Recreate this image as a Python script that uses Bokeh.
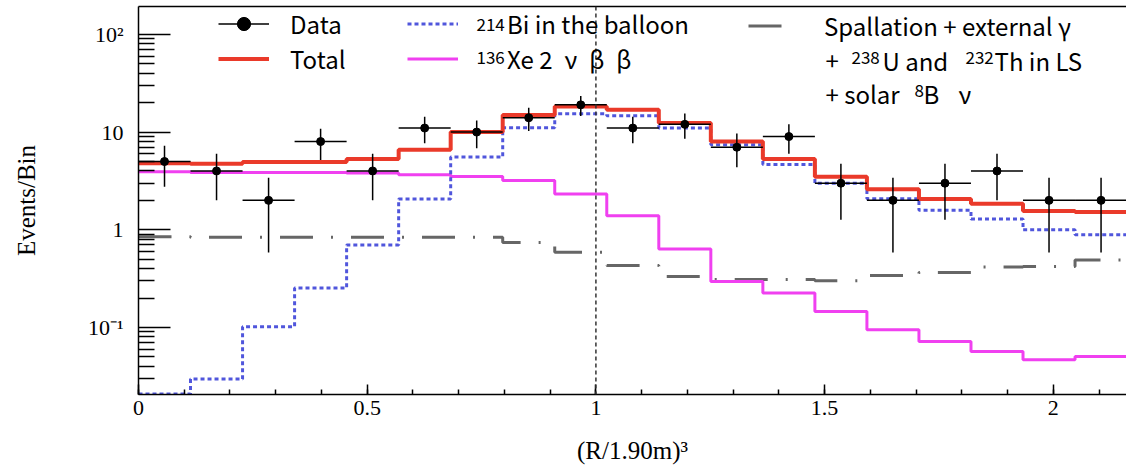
import numpy as np
from bokeh.plotting import figure
from bokeh.models import (ColumnDataSource, FixedTicker, CustomJSTickFormatter,
                          Legend, LegendItem, Span, Label, LinearAxis, Range1d)
from bokeh.embed import file_html
from bokeh.resources import INLINE

# ---------------- data ----------------
N_BINS = 19
BIN_WIDTH = 0.11375          # width of one (R/1.90m)^3 bin
FIDUCIAL_EDGE = 1.0          # vertical dashed line

data_counts = [5, 4, 2, 8, 4, 11, 10, 14, 19, 11, 12, 7, 9, 3, 2, 3, 4, 2, 2]
total_model = [4.80, 4.75, 4.93, 4.95, 5.30, 6.60, 10.0, 15.0, 18.3, 16.9,
               12.4, 8.0, 5.30, 3.50, 2.60, 2.06, 1.85, 1.56, 1.52]
bi214_balloon = [0.0208, 0.0296, 0.102, 0.253, 0.70, 2.06, 5.55, 11.1, 15.4, 14.7,
                 11.0, 7.4, 4.66, 3.0, 2.08, 1.58, 1.29, 1.0, 0.89]
xe136_2nbb = [3.92, 3.86, 3.86, 3.86, 3.82, 3.66, 3.51, 3.20, 2.32, 1.39,
              0.634, 0.296, 0.225, 0.146, 0.0947, 0.072, 0.0569, 0.0467, 0.0505]
other_bkg = [0.85, 0.84, 0.84, 0.84, 0.84, 0.84, 0.84, 0.74, 0.59, 0.43,
             0.333, 0.31, 0.31, 0.30, 0.34, 0.366, 0.415, 0.42, 0.49]

x_ticks = [0, 0.5, 1, 1.5, 2]
y_ticks = [0.1, 1, 10, 100]
x_title = "(R/1.90m)³"
y_title = "Events/Bin"

# ---------------- derived ----------------
edges = np.arange(N_BINS + 1) * BIN_WIDTH
centers = edges[:-1] + BIN_WIDTH / 2
d = np.array(data_counts, dtype=float)
err = np.sqrt(d)

SERIF = "Liberation Serif"
SANS = "Noto Sans CJK JP"

W, H = 1126, 470
BL, BT, BB = 138, 6, 76
p = figure(width=W, height=H, y_axis_type="log",
           x_range=Range1d(0, 2.16), y_range=Range1d(0.0206, 193),
           output_backend="svg", toolbar_location=None,
           min_border_left=BL, min_border_right=0, min_border_top=BT,
           min_border_bottom=BB)
p.grid.visible = False
p.outline_line_color = None
p.background_fill_color = "white"


def hist(vals, **kw):
    v = list(vals) + [vals[-1]]
    return p.step(x=edges, y=v, mode="after", **kw)


r_bkg = hist(other_bkg, line_color="#666666", line_width=3, line_dash="33 18 2 18")
r_xe = hist(xe136_2nbb, line_color="#f040f0", line_width=3)
r_bi = hist(bi214_balloon, line_color="#5056dc", line_width=3, line_dash="4 3")
r_tot = hist(total_model, line_color="#ea3a2a", line_width=4)

p.add_layout(Span(location=FIDUCIAL_EDGE, dimension="height", line_color="#333333",
                  line_width=1.5, line_dash="4 3"))

src = ColumnDataSource(dict(x=centers, y=d, x0=edges[:-1], x1=edges[1:],
                            ylo=d - err, yhi=d + err))
r_h = p.segment(x0="x0", y0="y", x1="x1", y1="y", source=src,
                line_color="black", line_width=1.5)
r_v = p.segment(x0="x", y0="ylo", x1="x", y1="yhi", source=src,
                line_color="black", line_width=1.5)
r_pts = p.scatter("x", "y", source=src, size=8, color="black")

# ---------------- axes ----------------
xa = p.xaxis[0]
xa.ticker = FixedTicker(ticks=x_ticks,
                        minor_ticks=[round(0.1 * i, 1) for i in range(0, 22)])
xa.formatter = CustomJSTickFormatter(code="return tick.toString();")
xa.major_tick_in = 10
xa.major_tick_out = 0
xa.minor_tick_in = 5
xa.minor_tick_out = 0
xa.major_label_standoff = 6
xa.axis_label = x_title
xa.axis_label_standoff = 19

ya = p.yaxis[0]
minor_y = []
for dec in [0.01, 0.1, 1, 10, 100]:
    for k in range(2, 10):
        minor_y.append(dec * k)
ya.ticker = FixedTicker(ticks=y_ticks, minor_ticks=minor_y)
ya.formatter = CustomJSTickFormatter(code="""
const e = Math.round(Math.log10(tick));
if (e == 0) return "1";
if (e == 1) return "10";
if (e == 2) return "10\u00b2";
if (e == -1) return "10\u207b\u00b9";
return "";
""")
ya.major_tick_in = 32
ya.major_tick_out = 0
ya.minor_tick_in = 16
ya.minor_tick_out = 0
ya.major_label_standoff = 15
ya.axis_label = y_title
ya.axis_label_standoff = 45

for ax in (xa, ya):
    ax.axis_line_width = 1.5
    ax.major_tick_line_width = 1.5
    ax.minor_tick_line_width = 1.5
    ax.axis_line_color = "black"
    ax.major_tick_line_color = "black"
    ax.minor_tick_line_color = "black"
    ax.major_label_text_font = SERIF
    ax.major_label_text_font_size = "22px"
    ax.major_label_text_color = "black"
    ax.axis_label_text_font = SERIF
    ax.axis_label_text_font_size = "25px"
    ax.axis_label_text_font_style = "normal"
    ax.axis_label_text_color = "black"

top = LinearAxis(ticker=FixedTicker(ticks=[]), major_label_text_font_size="0px",
                 major_tick_in=0, major_tick_out=0, minor_tick_in=0, minor_tick_out=0,
                 major_label_standoff=0, axis_line_width=1.5, axis_line_color="black")
p.add_layout(top, "above")

# ---------------- legend ----------------
def make_legend(items, loc, standoff):
    lg = Legend(items=items, location=loc, orientation="vertical",
                glyph_width=51, glyph_height=33, label_height=33,
                label_standoff=standoff, spacing=0, padding=0, margin=0,
                border_line_color=None, background_fill_alpha=0,
                label_text_font=SANS, label_text_font_size="24px",
                label_text_color="black")
    p.add_layout(lg)
    return lg

make_legend([LegendItem(label="Data", renderers=[r_h, r_pts]),
             LegendItem(label="Total", renderers=[r_tot])], (80, 318), 21)
make_legend([LegendItem(label="Bi in the balloon", renderers=[r_bi]),
             LegendItem(label="Xe 2\u2002\u03bd\u2002\u03b2\u2002\u03b2", renderers=[r_xe])],
            (269, 318), 49)
make_legend([LegendItem(label="Spallation + external \u03b3", renderers=[r_bkg])],
            (610, 351), 25)


def txt(s, x, y, size="24px", baseline="middle"):
    p.add_layout(Label(x=x, y=y, x_units="screen", y_units="screen", text=s,
                       text_font=SANS, text_font_size=size,
                       text_baseline=baseline, text_color="black"))


SUP = "17px"
ROW1_SUP, ROW2_SUP, ROW3_SUP = 377, 344, 311
# superscripts of the legend labels (column 2)
txt("214", 338, ROW1_SUP, SUP, "top")
txt("136", 338, ROW2_SUP, SUP, "top")
# column 3, rows 2 and 3
txt("+", 687, 334)
txt("238", 713, ROW2_SUP, SUP, "top")
txt("U and", 744, 334)
txt("232", 827, ROW2_SUP, SUP, "top")
txt("Th in LS", 856, 334)
txt("+ solar", 687, 301)
txt("8", 776, ROW3_SUP, SUP, "top")
txt("B", 785, 301)
txt("\u03bd", 820, 301)

open("out.html", "w").write(file_html(p, INLINE))
